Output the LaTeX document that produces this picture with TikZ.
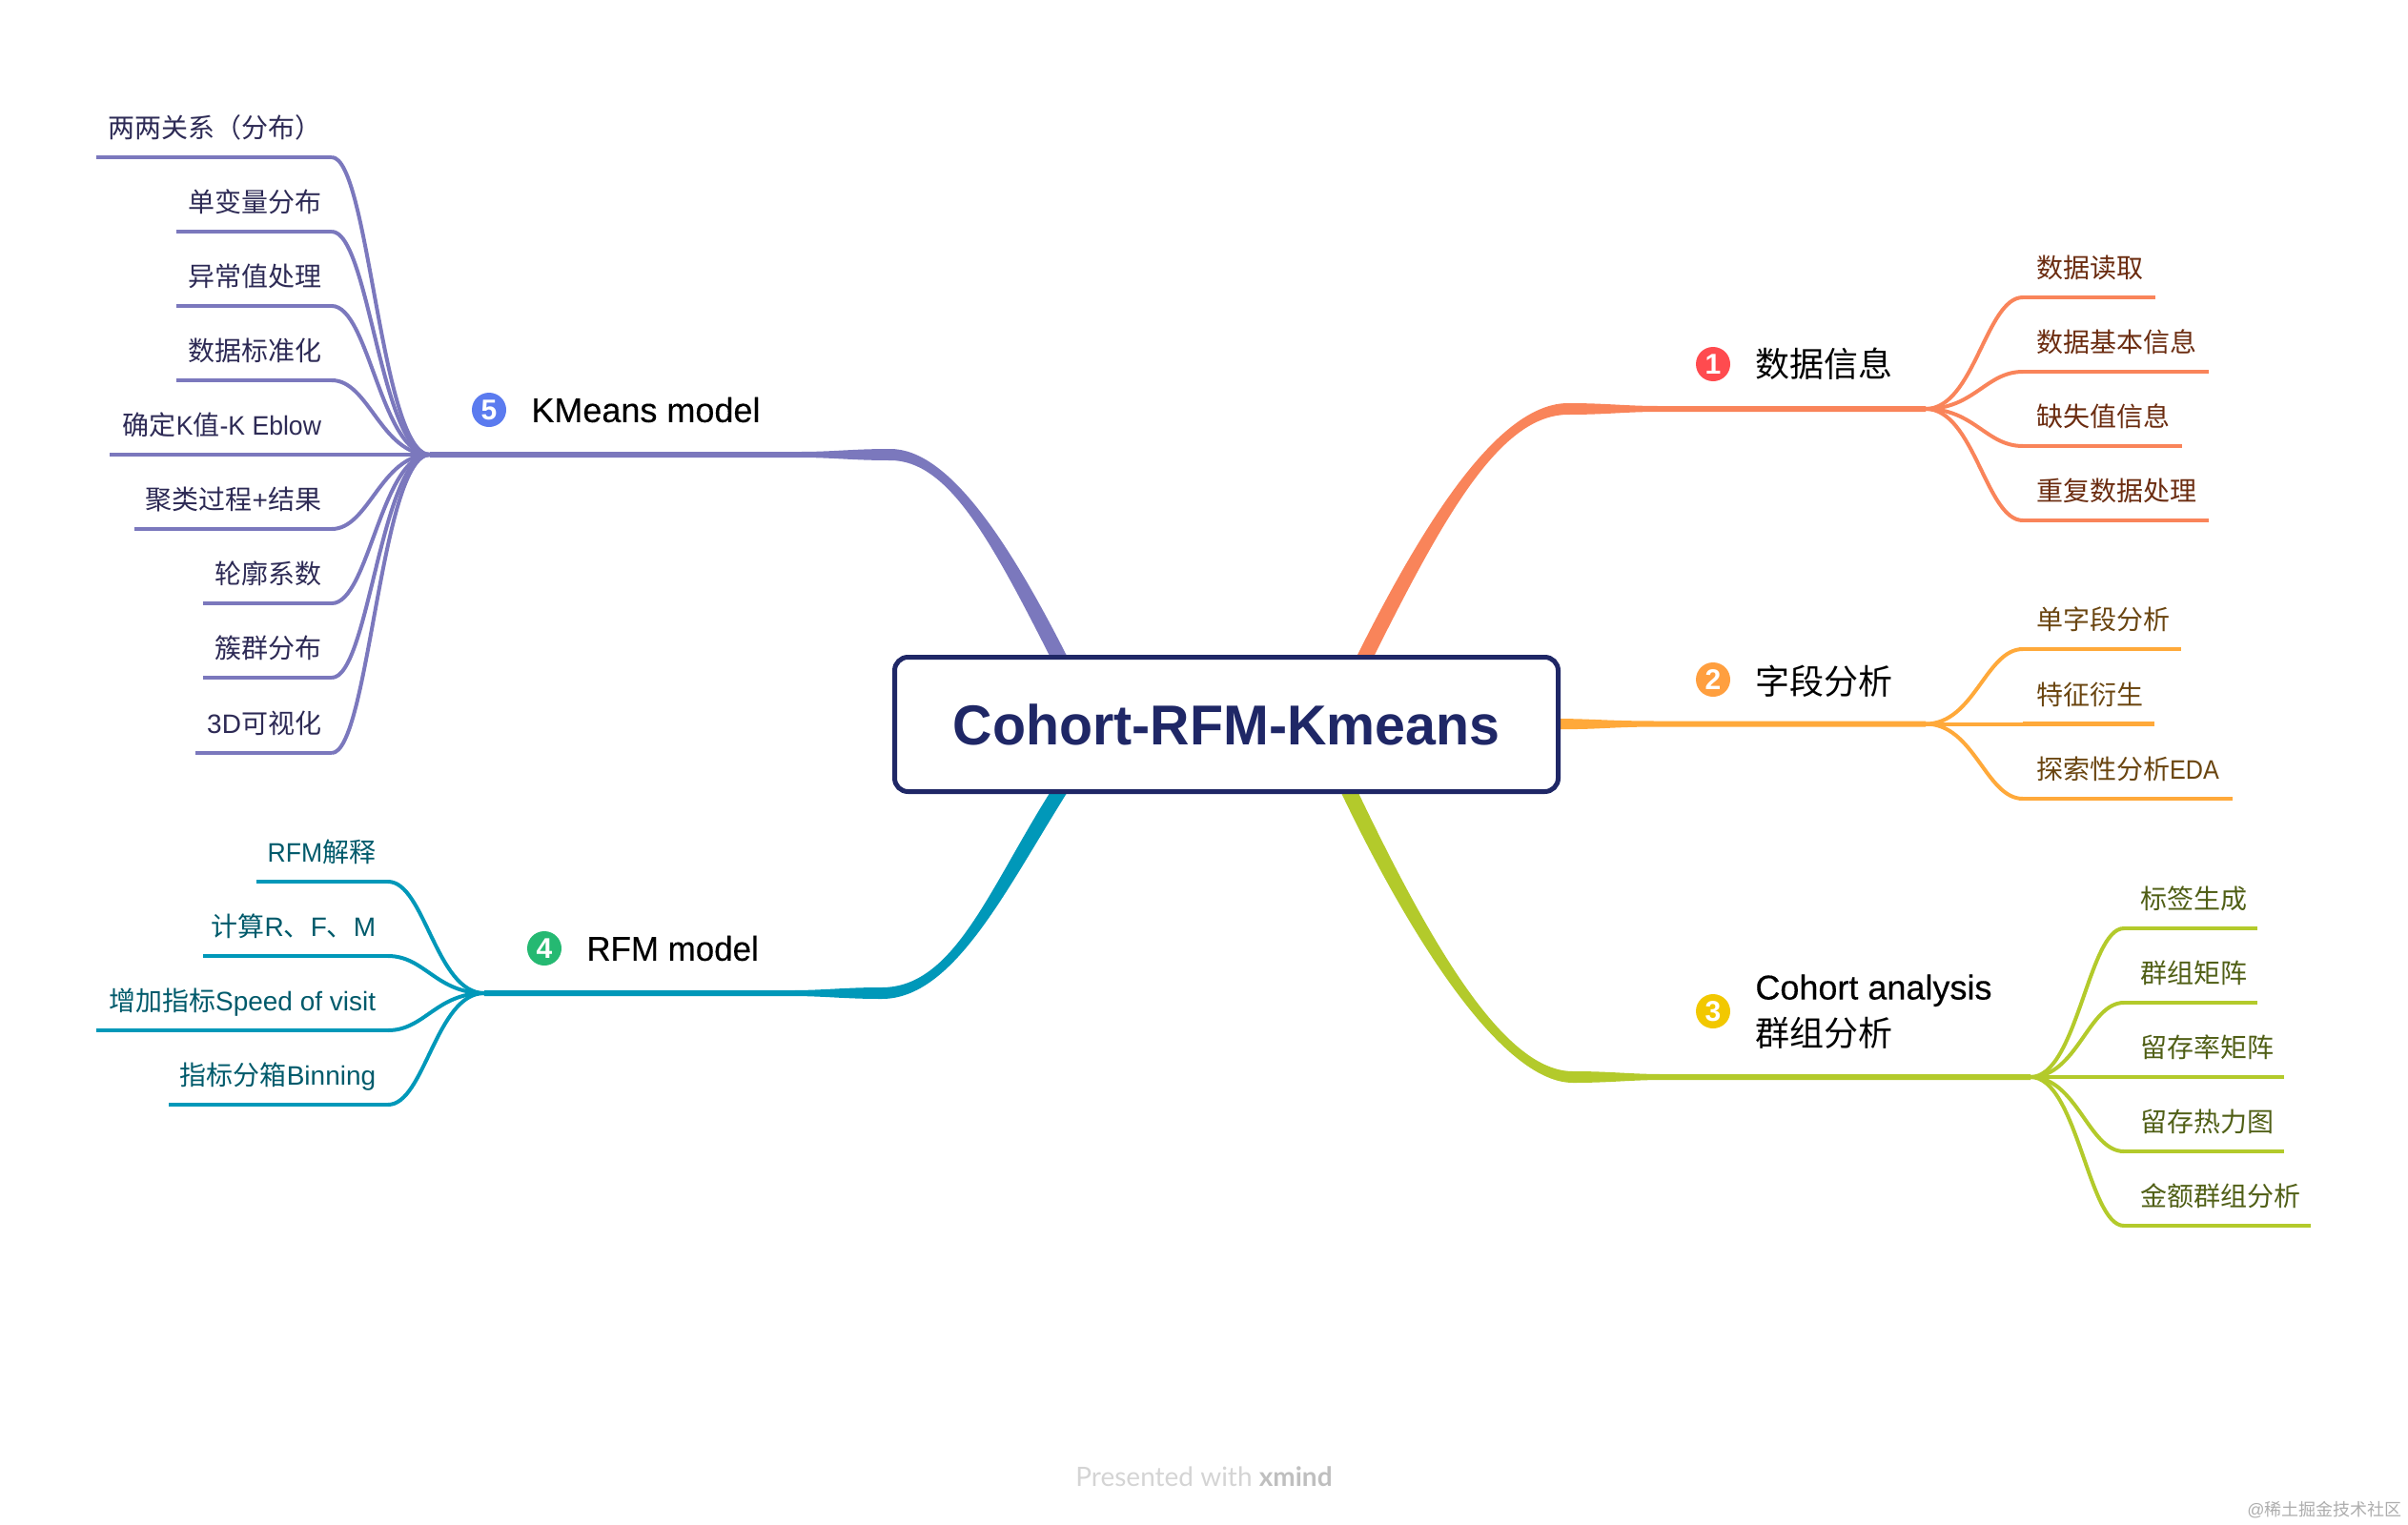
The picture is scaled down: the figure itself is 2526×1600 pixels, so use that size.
\documentclass[tikz,border=0pt]{standalone}
\usepackage{fontspec}
\usetikzlibrary{calc,backgrounds}
\setmainfont{Liberation Sans}
\newfontfamily\cjkf{Noto Sans CJK SC}
\newfontfamily\markf{Lato}
\newfontfamily\titlef[FakeStretch=0.972]{Liberation Sans}
\newfontfamily\narrowf[FakeStretch=0.9]{Liberation Sans}
\newfontfamily\semif[FakeStretch=0.95]{Liberation Sans}
\newfontfamily\topicf[FakeBold=0.25]{Liberation Sans}
\newfontfamily\topicnf[FakeBold=0.25,FakeStretch=0.97]{Liberation Sans}
\newcommand\zh[1]{{\cjkf #1}}
\newcommand\nrw[1]{{\narrowf #1}}
\newcommand\semn[1]{{\semif #1}}
\definecolor{navy}{HTML}{1F2766}
\definecolor{lorange}{HTML}{F9845A}
\definecolor{lamber}{HTML}{FFA93A}
\definecolor{lgreen}{HTML}{B3CA2B}
\definecolor{lteal}{HTML}{0098B9}
\definecolor{lpurple}{HTML}{7B78BD}
\definecolor{torange}{HTML}{6B2C10}
\definecolor{tamber}{HTML}{6A4510}
\definecolor{tgreen}{HTML}{505F16}
\definecolor{tteal}{HTML}{005A6B}
\definecolor{tpurple}{HTML}{2D2A55}
\definecolor{bred}{HTML}{FF4B4F}
\definecolor{bamber}{HTML}{FF9F3F}
\definecolor{byellow}{HTML}{F2C800}
\definecolor{bgreen}{HTML}{25B972}
\definecolor{bblue}{HTML}{5B7BEF}
\definecolor{wmlight}{HTML}{D4D4D4}
\definecolor{wmbold}{HTML}{BFBFBF}
\definecolor{wmsite}{HTML}{ADADAD}
\tikzset{
  leafnode/.style={inner xsep=7pt,inner ysep=7.25pt,outer sep=0pt,text height=11pt,text depth=3pt,
     font=\fontsize{14pt}{17pt}\selectfont},
  twig/.style={line width=2pt},
  under/.style={line width=2.2pt},
  bullet/.style={circle,minimum size=18pt,inner sep=0pt,text=white,font=\fontsize{15pt}{15pt}\selectfont\bfseries},
  topic/.style={anchor=west,inner sep=0pt,align=left,text=black,font=\fontsize{18pt}{24.5pt}\selectfont},
}
\newcommand\taper[8]{
  \fill[#1] ($(#2)+(-9,0)$) .. controls ($(#2)+(-9,0)+(#5)$) and ($(#3)+(-#7*#6,#8*6)$) .. ($(#3)+(0,#8*6)$)
    .. controls ($(#3)+(#7*40,#8*6)$) and ($(#3)+(#7*60,#8*3)$) .. ($(#3)+(#7*95,#8*3)$)
    -- ($(#4)+(0,#8*3)$) -- ($(#4)+(0,-#8*3)$) -- ($(#3)+(#7*95,-#8*3)$)
    .. controls ($(#3)+(#7*60,-#8*3)$) and ($(#3)+(#7*40,-#8*6)$) .. ($(#3)+(0,-#8*6)$)
    .. controls ($(#3)+(-#7*#6,-#8*6)$) and ($(#2)+(9,0)+(#5)$) .. ($(#2)+(9,0)$) -- cycle;
}
\newlength\gapright
\newlength\gapleft
\setlength\gapright{0pt}
\setlength\gapleft{-1.5pt}
\newcommand\leafR[6]{
  \pgfmathsetmacro\boxw{(#4-#2-28)/2}
  \node[leafnode,anchor=south west,text=#5] (#1) at (#2,#3) {\makebox[\boxw pt][l]{\hspace*{\gapright}#6}};
}
\newcommand\leafL[6]{
  \pgfmathsetmacro\boxw{(#2-#4-28)/2}
  \node[leafnode,anchor=south east,text=#5] (#1) at (#2,#3) {\makebox[\boxw pt][r]{#6\hspace*{\gapleft}}};
}
\newcommand\twigR[3]{
  \coordinate (pa) at ($(#2)!.5!(#3.south west)$);
  \coordinate (pb) at ($(#2)!.62!(#3.south west)$);
  \draw[twig,#1] (#2) .. controls (pa |- #2) and (pb |- #3.south west) .. (#3.south west);
  \draw[under,#1] (#3.south west) -- (#3.south east);
}
\newcommand\twigL[3]{
  \coordinate (pa) at ($(#2)!.5!(#3.south east)$);
  \coordinate (pb) at ($(#2)!.62!(#3.south east)$);
  \draw[twig,#1] (#2) .. controls (pa |- #2) and (pb |- #3.south east) .. (#3.south east);
  \draw[under,#1] (#3.south east) -- (#3.south west);
}
\begin{document}
\begin{tikzpicture}[x=0.5pt,y=-0.5pt]
\useasboundingbox (0,0) rectangle (2526,1600);

% root
\node[draw=navy,line width=2.5pt,fill=white,rounded corners=7pt,minimum width=348pt,minimum height=70.5pt,
  inner sep=0pt,text=navy,font=\fontsize{29.5pt}{32pt}\selectfont\titlef\bfseries] (root) at (1286.5,760) {Cohort-RFM-Kmeans};

% hubs, elbows, starts
\coordinate (h1) at (2020,429);
\coordinate (h2) at (2020,759.5);
\coordinate (h3) at (2130,1130);
\coordinate (h4) at (508,1042);
\coordinate (h5) at (451,477);
\coordinate (e1) at (1645,429);
\coordinate (e3) at (1650,1130);
\coordinate (e4) at (925,1042);
\coordinate (e5) at (934,477);
\coordinate (s1) at ($(root.north)+(146.5,0)$);
\coordinate (s3) at ($(root.south)+(130,0)$);
\coordinate (s4) at ($(root.south)+(-177,0)$);
\coordinate (s5) at ($(root.north)+(-177,0)$);
\coordinate (t2) at (1740,759.5);

% main branches, behind the root
\begin{pgfonlayer}{background}
\taper{lorange}{s1}{e1}{h1}{75,-150}{70}{1}{-1}
\taper{lgreen}{s3}{e3}{h3}{80,167}{70}{1}{1}
\taper{lteal}{s4}{e4}{h4}{-64,102}{75}{-1}{-1}
\taper{lpurple}{s5}{e5}{h5}{-62,-122}{60}{-1}{1}
\fill[lamber] ($(root.east)+(0,-6)$) .. controls ($(root.east)+(40,-5.5)$) and ($(t2)+(-50,-3)$) .. ($(t2)+(0,-3)$)
   -- ($(h2)+(0,-3)$) -- ($(h2)+(0,3)$) -- ($(t2)+(0,3)$)
   .. controls ($(t2)+(-50,3)$) and ($(root.east)+(40,5.5)$) .. ($(root.east)+(0,5)$) -- cycle;
\end{pgfonlayer}

% topics
\node[bullet,fill=bred] (b1) at (1797,382) {1};
\node[topic] (t1) at (1841,382) {\zh{数据信息}};
\node[bullet,fill=bamber] (b2) at (1797,713) {2};
\node[topic] (tt2) at (1841,715) {\zh{字段分析}};
\node[bullet,fill=byellow] (b3) at (1797,1061) {3};
\node[topic] (tt3) at (1841,1061.5) {\topicf Cohort analysis\\\zh{群组分析}};
\node[bullet,fill=bgreen] (b4) at (571,995) {4};
\node[topic] (tt4) at (615,995) {\topicnf RFM model};
\node[bullet,fill=bblue] (b5) at (513,430) {5};
\node[topic] (tt5) at (557,430) {\topicf KMeans model};

% leaves branch 1
\leafR{a1}{2122}{312}{2261}{torange}{\zh{数据读取}}
\leafR{a2}{2122}{390}{2317}{torange}{\zh{数据基本信息}}
\leafR{a3}{2122}{468}{2289}{torange}{\zh{缺失值信息}}
\leafR{a4}{2122}{546}{2317}{torange}{\zh{重复数据处理}}
\twigR{lorange}{h1}{a1}\twigR{lorange}{h1}{a2}\twigR{lorange}{h1}{a3}\twigR{lorange}{h1}{a4}

% leaves branch 2
\leafR{c1}{2122}{681}{2288}{tamber}{\zh{单字段分析}}
\leafR{c2}{2122}{759.5}{2260}{tamber}{\zh{特征衍生}}
\leafR{c3}{2122}{838}{2342}{tamber}{\zh{探索性分析}\nrw{EDA}}
\twigR{lamber}{h2}{c1}\twigR{lamber}{h2}{c2}\twigR{lamber}{h2}{c3}

% leaves branch 3
\setlength\gapright{1.5pt}
\leafR{d1}{2228}{974}{2368}{tgreen}{\zh{标签生成}}
\leafR{d2}{2228}{1052}{2368}{tgreen}{\zh{群组矩阵}}
\leafR{d3}{2228}{1130}{2396}{tgreen}{\zh{留存率矩阵}}
\leafR{d4}{2228}{1208}{2396}{tgreen}{\zh{留存热力图}}
\leafR{d5}{2228}{1286}{2424}{tgreen}{\zh{金额群组分析}}
\twigR{lgreen}{h3}{d1}\twigR{lgreen}{h3}{d2}\twigR{lgreen}{h3}{d3}\twigR{lgreen}{h3}{d4}\twigR{lgreen}{h3}{d5}

% leaves branch 4
\setlength\gapleft{-0.6pt}
\leafL{f1}{407}{925}{269}{tteal}{\semn{RFM}\zh{解释}}
\leafL{f2}{407}{1003}{213}{tteal}{\zh{计算}R\zh{、}F\zh{、}M}
\leafL{f3}{407}{1081}{101}{tteal}{\zh{增加指标}Speed of visit}
\leafL{f4}{407}{1159}{177}{tteal}{\zh{指标分箱}Binning}
\twigL{lteal}{h4}{f1}\twigL{lteal}{h4}{f2}\twigL{lteal}{h4}{f3}\twigL{lteal}{h4}{f4}

% leaves branch 5
\setlength\gapleft{-1.5pt}
\leafL{g1}{348}{165}{101}{tpurple}{\zh{两两关系（分布）}}
\leafL{g2}{348}{243}{185}{tpurple}{\zh{单变量分布}}
\leafL{g3}{348}{321}{185}{tpurple}{\zh{异常值处理}}
\leafL{g4}{348}{399}{185}{tpurple}{\zh{数据标准化}}
\leafL{g5}{348}{477}{115}{tpurple}{\zh{确定}\semn{K}\zh{值}\semn{-K Eblow}}
\leafL{g6}{348}{555}{141}{tpurple}{\zh{聚类过程}+\zh{结果}}
\leafL{g7}{348}{633}{213}{tpurple}{\zh{轮廓系数}}
\leafL{g8}{348}{711}{213}{tpurple}{\zh{簇群分布}}
\leafL{g9}{348}{790}{205}{tpurple}{3D\zh{可视化}}
\twigL{lpurple}{h5}{g1}\twigL{lpurple}{h5}{g2}\twigL{lpurple}{h5}{g3}\twigL{lpurple}{h5}{g4}\twigL{lpurple}{h5}{g5}
\twigL{lpurple}{h5}{g6}\twigL{lpurple}{h5}{g7}\twigL{lpurple}{h5}{g8}\twigL{lpurple}{h5}{g9}

% watermarks
\node[inner sep=0pt,anchor=center,text=wmlight,font=\fontsize{14pt}{16pt}\selectfont] (wm) at (1263,1549) {{\markf Presented with }{\markf\bfseries\textcolor{wmbold}{xmind}}};
\node[inner sep=0pt,anchor=east,text=wmsite,font=\fontsize{9pt}{10pt}\selectfont] (wj) at (2520,1584) {@\zh{稀土掘金技术社区}};
\end{tikzpicture}
\end{document}
